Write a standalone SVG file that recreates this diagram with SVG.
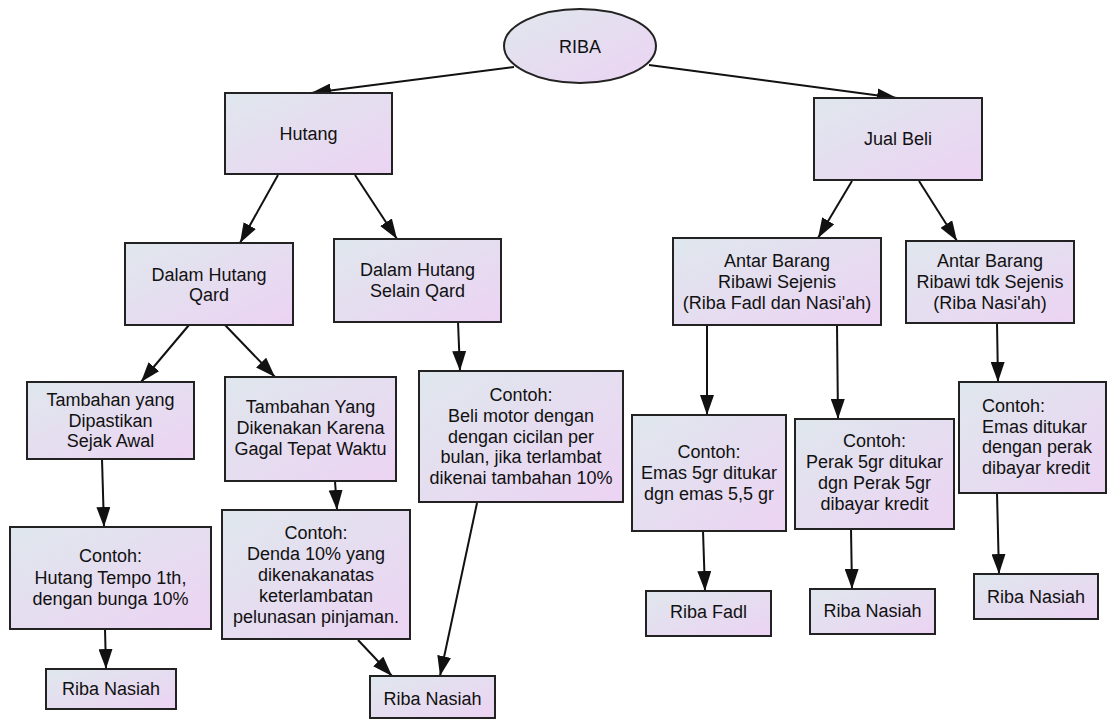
<svg xmlns="http://www.w3.org/2000/svg" width="1108" height="720" viewBox="0 0 1108 720">
<defs>
<linearGradient id="g" x1="0" y1="0" x2="1" y2="1">
<stop offset="0" stop-color="#dfe7ed"/>
<stop offset="1" stop-color="#ecd3f3"/>
</linearGradient>
<marker id="ah" markerUnits="userSpaceOnUse" markerWidth="21" markerHeight="14" refX="20" refY="7" orient="auto">
<path d="M0,0 L20,7 L0,14 z" fill="#111"/>
</marker>
<style>
.n{fill:url(#g);stroke:#222;stroke-width:2}
text{font-family:"Liberation Sans",Arial,sans-serif;font-size:18px;fill:#111;text-anchor:middle}
.l{text-anchor:start}
.c{stroke:#111;stroke-width:2;fill:none;marker-end:url(#ah)}
</style>
</defs>
<rect width="1108" height="720" fill="#fff"/>
<g id="connectors">
<line class="c" x1="514" y1="67" x2="311" y2="93"/>
<line class="c" x1="649" y1="65" x2="897" y2="98"/>
<line class="c" x1="278" y1="175" x2="240" y2="243"/>
<line class="c" x1="355" y1="175" x2="397" y2="239"/>
<line class="c" x1="852" y1="181" x2="818" y2="238"/>
<line class="c" x1="919" y1="181" x2="957" y2="241"/>
<line class="c" x1="189" y1="325" x2="141" y2="382"/>
<line class="c" x1="225" y1="325" x2="275" y2="377"/>
<line class="c" x1="458" y1="322" x2="460" y2="371"/>
<line class="c" x1="707" y1="325" x2="707" y2="415"/>
<line class="c" x1="837" y1="325" x2="838" y2="419"/>
<line class="c" x1="997" y1="323" x2="998" y2="382"/>
<line class="c" x1="102" y1="459" x2="104" y2="527"/>
<line class="c" x1="335" y1="481" x2="337" y2="510"/>
<line class="c" x1="105" y1="629" x2="106" y2="669"/>
<line class="c" x1="358" y1="640" x2="392" y2="676"/>
<line class="c" x1="477" y1="503" x2="440" y2="676"/>
<line class="c" x1="703" y1="531" x2="705" y2="591"/>
<line class="c" x1="851" y1="529" x2="852" y2="589"/>
<line class="c" x1="997" y1="493" x2="999" y2="574"/>
</g>
<g id="riba"><ellipse class="n" cx="580" cy="46" rx="76" ry="37"/><text x="580" y="53">RIBA</text></g>
<g id="hutang"><rect class="n" x="225" y="93" width="167" height="81"/><text x="308.5" y="140">Hutang</text></g>
<g id="jualbeli"><rect class="n" x="814" y="98" width="168" height="82"/><text x="898" y="145">Jual Beli</text></g>
<g id="qard"><rect class="n" x="125" y="243" width="168" height="82"/><text x="209" y="281">Dalam Hutang</text><text x="209" y="301">Qard</text></g>
<g id="selain"><rect class="n" x="334" y="239" width="167" height="83"/><text x="417.5" y="276">Dalam Hutang</text><text x="417.5" y="297">Selain Qard</text></g>
<g id="sejenis"><rect class="n" x="673" y="238" width="208" height="87"/><text x="777" y="267">Antar Barang</text><text x="777" y="288">Ribawi Sejenis</text><text x="777" y="309">(Riba Fadl dan Nasi'ah)</text></g>
<g id="tdksejenis"><rect class="n" x="906" y="241" width="168" height="82"/><text x="990" y="267">Antar Barang</text><text x="990" y="288">Ribawi tdk Sejenis</text><text x="990" y="309">(Riba Nasi'ah)</text></g>
<g id="tambahan1"><rect class="n" x="27" y="382" width="167" height="77"/><text x="110.5" y="406">Tambahan yang</text><text x="110.5" y="427">Dipastikan</text><text x="110.5" y="447">Sejak Awal</text></g>
<g id="tambahan2"><rect class="n" x="225" y="377" width="171" height="104"/><text x="310.5" y="413">Tambahan Yang</text><text x="310.5" y="434">Dikenakan Karena</text><text x="310.5" y="455">Gagal Tepat Waktu</text></g>
<g id="contohselain"><rect class="n" x="419" y="371" width="204" height="131"/><text x="521" y="401">Contoh:</text><text x="521" y="422">Beli motor dengan</text><text x="521" y="443">dengan cicilan per</text><text x="521" y="463">bulan, jika terlambat</text><text x="521" y="484">dikenai tambahan 10%</text></g>
<g id="contohemas1"><rect class="n" x="632" y="415" width="154" height="116"/><text x="709" y="458">Contoh:</text><text x="709" y="479">Emas 5gr ditukar</text><text x="709" y="500">dgn emas 5,5 gr</text></g>
<g id="contohperak"><rect class="n" x="795" y="419" width="159" height="110"/><text x="874.5" y="447">Contoh:</text><text x="874.5" y="468">Perak 5gr ditukar</text><text x="874.5" y="489">dgn Perak 5gr</text><text x="874.5" y="510">dibayar kredit</text></g>
<g id="contohemas2"><rect class="n" x="959" y="382" width="147" height="111"/><text class="l" x="982" y="412">Contoh:</text><text class="l" x="982" y="433">Emas ditukar</text><text class="l" x="982" y="453">dengan perak</text><text class="l" x="982" y="474">dibayar kredit</text></g>
<g id="contohtempo"><rect class="n" x="10" y="527" width="201" height="102"/><text x="110.5" y="562">Contoh:</text><text x="110.5" y="584">Hutang Tempo 1th,</text><text x="110.5" y="605">dengan bunga 10%</text></g>
<g id="contohdenda"><rect class="n" x="222" y="510" width="188" height="129"/><text x="316" y="539">Contoh:</text><text x="316" y="560">Denda 10% yang</text><text x="316" y="581">dikenakanatas</text><text x="316" y="602">keterlambatan</text><text x="316" y="623">pelunasan pinjaman.</text></g>
<g id="nasiah1"><rect class="n" x="46" y="669" width="130" height="40"/><text x="111" y="695">Riba Nasiah</text></g>
<g id="nasiah2"><rect class="n" x="370" y="676" width="125" height="42"/><text x="432.5" y="705">Riba Nasiah</text></g>
<g id="fadl"><rect class="n" x="646" y="591" width="125" height="45"/><text x="708.5" y="618">Riba Fadl</text></g>
<g id="nasiah3"><rect class="n" x="810" y="589" width="125" height="45"/><text x="872.5" y="617">Riba Nasiah</text></g>
<g id="nasiah4"><rect class="n" x="974" y="574" width="124" height="45"/><text x="1036" y="603">Riba Nasiah</text></g>
</svg>
